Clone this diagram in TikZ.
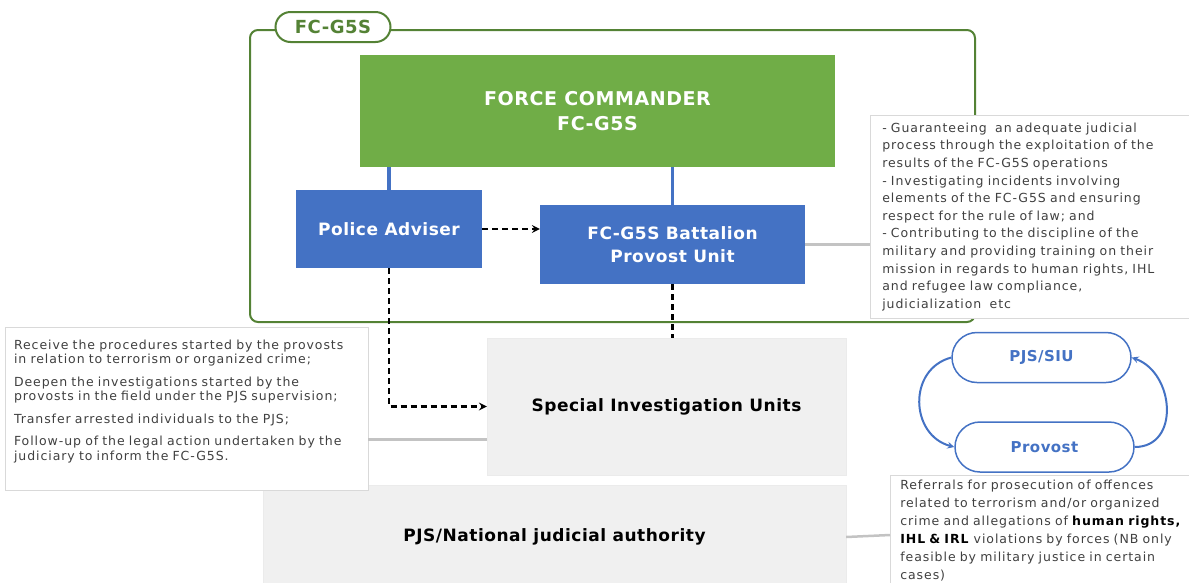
\documentclass[tikz,border=0pt]{standalone}
\usepackage{fontspec}
\setmainfont{DejaVu Sans}
\newfontfamily\notefont{DejaVu Sans}[LetterSpace=7.5]
\newfontfamily\boxfont{DejaVu Sans}[LetterSpace=3]
\usetikzlibrary{arrows, positioning}

\definecolor{framegreen}{RGB}{84,130,53}
\definecolor{cmdgreen}{RGB}{112,173,71}
\definecolor{unitblue}{RGB}{68,114,196}
\definecolor{boxgray}{RGB}{240,240,240}
\definecolor{notegray}{RGB}{64,64,64}
\definecolor{linegray}{RGB}{195,195,195}

\begin{document}
\begin{tikzpicture}[x=1pt, y=1pt, >=stealth]

        \tikzstyle{unit}=[rectangle, fill=unitblue, text=white, align=center, font=\boxfont\bfseries\fontsize{17}{23}\selectfont]
        \tikzstyle{graybox}=[rectangle, fill=boxgray, draw=black!8, text=black, font=\boxfont\bfseries\fontsize{17}{22}\selectfont]
        \tikzstyle{note}=[rectangle, fill=white, draw=black!15, line width=0.6pt, text=notegray, align=left, font=\notefont\fontsize{12.5}{14.5}\selectfont]
        \tikzstyle{pill}=[rectangle, rounded corners=25pt, draw=unitblue, line width=1.5pt, fill=white, text=unitblue, minimum height=50pt, font=\boxfont\bfseries\fontsize{15}{18}\selectfont]
        \tikzstyle{link}=[unitblue, line width=3.5pt]
        \tikzstyle{flow}=[black, line width=2.4pt, dash pattern=on 6pt off 4pt]
        \tikzstyle{noteline}=[linegray, line width=2.5pt]
        \tikzstyle{cycle}=[unitblue, line width=2pt]

        \path[use as bounding box] (0,0) rectangle (1189,-582);
        \clip (0,0) rectangle (1189,-582);

        % FC-G5S frame
        \draw[framegreen, line width=2pt, rounded corners=8pt] (250,-30) rectangle (975,-322);
        \node[rectangle, rounded corners=15pt, draw=framegreen, line width=2pt, fill=white, text=framegreen,
              minimum width=115pt, minimum height=30pt, font=\boxfont\bfseries\fontsize{18}{20}\selectfont]
              (tag) at (333,-27) {FC-G5S};

        \node[unit, fill=cmdgreen, minimum width=475pt, minimum height=112pt, font=\boxfont\bfseries\fontsize{19}{25}\selectfont]
              (fc) at (597.5,-111) {FORCE COMMANDER\\FC-G5S};
        \node[unit, minimum width=186pt, minimum height=78pt] (police) at (389,-229) {Police Adviser};
        \node[unit, minimum width=265pt, minimum height=79pt] (provost) at (672.5,-244.5) {FC-G5S Battalion\\Provost Unit};

        \node[graybox, minimum width=359pt, minimum height=137pt] (siu) at (666.5,-406.5) {Special Investigation Units};
        \node[graybox, minimum width=583pt, minimum height=104pt] (pjs) at (554.5,-537) {PJS/National judicial authority};

        % notes
        \node[note, text width=345pt, inner xsep=9pt, minimum height=163pt] (lnote) at (186.5,-408.5)
        {Receive the procedures started by the provosts\\
         in relation to terrorism or organized crime;\\[8pt]
         Deepen the investigations started by the\\
         provosts in the field under the PJS supervision;\\[8pt]
         Transfer arrested individuals to the PJS;\\[8pt]
         Follow-up of the legal action undertaken by the\\
         judiciary to inform the FC-G5S.\par\vspace*{14pt}};

        \node[note, anchor=north west, text width=320pt, inner xsep=12pt, inner ysep=5pt, minimum height=203pt,
              font=\notefont\fontsize{12.5}{17.6}\selectfont] (rnote) at (870,-115)
        {- Guaranteeing\ \ an adequate judicial\\
         process through the exploitation of the\\
         results of the FC-G5S operations\\
         - Investigating incidents involving\\
         elements of the FC-G5S and ensuring\\
         respect for the rule of law; and\\
         - Contributing to the discipline of the\\
         military and providing training on their\\
         mission in regards to human rights, IHL\\
         and refugee law compliance,\\
         judicialization\ \ etc};

        \node[note, anchor=north west, text width=300pt, inner xsep=10pt, inner ysep=0pt, minimum height=130pt,
              font=\notefont\fontsize{12.5}{18}\selectfont] (bnote) at (890,-475)
        {Referrals for prosecution of offences\\
         related to terrorism and/or organized\\
         crime and allegations of \textcolor{black}{\textbf{human rights,}}\\
         \textcolor{black}{\textbf{IHL \& IRL}} violations by forces (NB only\\
         feasible by military justice in certain\\
         cases)\par\vspace*{20pt}};

        % PJS/SIU and provost cycle
        \node[pill, minimum width=179pt] (psiu) at (1041.5,-357.5) {PJS/SIU};
        \node[pill, minimum width=179pt] (pprov) [below=38pt of psiu.south, anchor=north, xshift=3pt] {Provost};

        % connectors
        \draw[link] (police.north) -- (police.north |- fc.south);
        \draw[link] (provost.north) -- (provost.north |- fc.south);

        \draw[flow, ->] (police.east) -- (police.east -| provost.west);
        \draw[flow, ->] (police.south) |- (siu.west);
        \draw[flow] (provost.south) -- (provost.south |- siu.north);

        \draw[noteline] ([yshift=-33pt]siu.west) -- ([yshift=-33pt]siu.west -| lnote.east);
        \draw[noteline] (provost.east) -- (provost.east -| rnote.west);
        \draw[noteline] (pjs.east) -- ([yshift=2pt]bnote.west |- pjs.east);

        \path[cycle, ->]
        (psiu.west) edge [out=195, in=165, looseness=1.3] (pprov.west)
        (pprov.east) edge [out=0, in=-20, looseness=1.3] (psiu.east);

\end{tikzpicture}
\end{document}
